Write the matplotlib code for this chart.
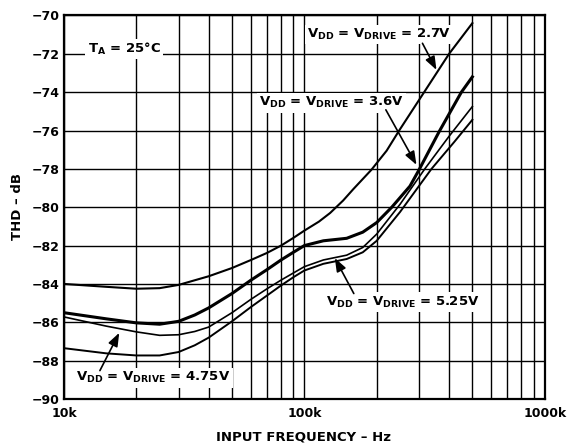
import matplotlib
matplotlib.use('Agg')
import matplotlib.pyplot as plt
from matplotlib.ticker import FixedLocator, FixedFormatter, NullFormatter

plt.rcParams['font.family'] = ['DejaVu Sans']
plt.rcParams['font.weight'] = 'bold'
plt.rcParams['mathtext.fontset'] = 'custom'
plt.rcParams['mathtext.rm'] = 'DejaVu Sans:bold'
plt.rcParams['mathtext.it'] = 'DejaVu Sans:bold'
plt.rcParams['mathtext.bf'] = 'DejaVu Sans:bold'

# THD vs input frequency (kHz)
f_27 = [10, 15, 20, 25, 30, 40, 50, 60, 70, 80, 90, 100, 115, 128, 145, 160, 190, 220,
        248, 315, 400, 500]
thd_27 = [-84.0, -84.15, -84.25, -84.22, -84.05, -83.6, -83.17, -82.75, -82.38, -82.0,
          -81.6, -81.22, -80.75, -80.3, -79.65, -79.05, -78.05, -77.05, -76.0, -74.0,
          -72.0, -70.4]

f_36 = [10, 15, 20, 25, 30, 35, 40, 50, 60, 70, 80, 90, 100, 120, 150, 175, 200, 231,
        275, 300, 364, 450, 500]
thd_36 = [-85.5, -85.82, -86.03, -86.1, -85.95, -85.62, -85.25, -84.5, -83.8, -83.25,
          -82.75, -82.35, -82.0, -81.75, -81.62, -81.3, -80.8, -80.0, -78.9, -78.05,
          -76.05, -74.0, -73.2]

f_475 = [10, 15, 20, 25, 30, 35, 40, 50, 60, 70, 80, 90, 100, 120, 150, 175, 200, 250,
         317, 400, 500]
thd_475 = [-85.72, -86.2, -86.5, -86.68, -86.65, -86.48, -86.25, -85.5, -84.8, -84.25,
           -83.8, -83.43, -83.1, -82.75, -82.5, -82.1, -81.4, -79.85, -78.0, -76.3,
           -74.75]

f_525 = [10, 15, 20, 25, 30, 35, 40, 50, 60, 70, 80, 90, 100, 120, 150, 175, 200, 250,
         338, 420, 500]
thd_525 = [-87.35, -87.62, -87.73, -87.73, -87.55, -87.2, -86.8, -85.95, -85.2, -84.6,
           -84.08, -83.65, -83.3, -82.95, -82.7, -82.35, -81.75, -80.25, -78.0, -76.6,
           -75.44]

x_ticks = [10, 100, 1000]
x_labels = ['10k', '100k', '1000k']
y_ticks = list(range(-90, -69, 2))

fig = plt.figure(figsize=(5.71, 4.45), dpi=100)
ax = fig.add_axes([0.112, 0.1034, 0.842, 0.8618])

ax.plot(f_27, thd_27, color='black', lw=1.5, zorder=4)
ax.plot(f_36, thd_36, color='black', lw=2.2, zorder=4)
ax.plot(f_475, thd_475, color='black', lw=1.2, zorder=4)
ax.plot(f_525, thd_525, color='black', lw=1.4, zorder=4)

ax.set_xscale('log')
ax.set_xlim(10, 1000)
ax.set_ylim(-90, -70)
ax.xaxis.set_major_locator(FixedLocator(x_ticks))
ax.xaxis.set_major_formatter(FixedFormatter(x_labels))
ax.xaxis.set_minor_formatter(NullFormatter())
ax.set_yticks(y_ticks)
ax.set_yticklabels([f'\u2212{abs(v)}' for v in y_ticks])
ax.tick_params(which='both', length=0, labelsize=9)
ax.tick_params(axis='x', pad=6)
ax.tick_params(axis='y', pad=3)
ax.grid(True, which='both', color='black', lw=1.0)
for s in ax.spines.values():
    s.set_linewidth(1.6)

box = dict(facecolor='white', edgecolor='none', pad=1.5)
ax.text(0.125, 0.912, r'$\mathrm{T_A}$ = 25°C', transform=ax.transAxes,
        ha='center', va='center', fontsize=9.5, bbox=box, zorder=3)
ax.text(0.655, 0.951, r'$\mathrm{V_{DD}}$ = $\mathrm{V_{DRIVE}}$ = 2.7V', transform=ax.transAxes,
        ha='center', va='center', fontsize=9.5, bbox=box, zorder=3)
ax.text(0.556, 0.772, r'$\mathrm{V_{DD}}$ = $\mathrm{V_{DRIVE}}$ = 3.6V', transform=ax.transAxes,
        ha='center', va='center', fontsize=9.5, bbox=box, zorder=3)
ax.text(0.186, 0.055, r'$\mathrm{V_{DD}}$ = $\mathrm{V_{DRIVE}}$ = 4.75V', transform=ax.transAxes,
        ha='center', va='center', fontsize=9.5, bbox=box, zorder=3)
ax.text(0.705, 0.253, r'$\mathrm{V_{DD}}$ = $\mathrm{V_{DRIVE}}$ = 5.25V', transform=ax.transAxes,
        ha='center', va='center', fontsize=9.5, bbox=box, zorder=3)

arrow = dict(arrowstyle='-|>,head_length=0.8,head_width=0.3', color='black', lw=1.2,
             shrinkA=0, shrinkB=0)
ax.annotate('', xy=(354.5, -72.84), xytext=(310, -71.45), arrowprops=arrow, zorder=5)
ax.annotate('', xy=(292.7, -77.79), xytext=(218.3, -74.92), arrowprops=arrow, zorder=5)
ax.annotate('', xy=(16.98, -86.55), xytext=(14.11, -88.52), arrowprops=arrow, zorder=5)
ax.annotate('', xy=(133.9, -82.65), xytext=(160.6, -84.5), arrowprops=arrow, zorder=5)

fig.text(0.532, 0.019, 'INPUT FREQUENCY \u2013 Hz', ha='center', va='center', fontsize=9.5)
fig.text(0.030, 0.535, 'THD \u2013 dB', ha='center', va='center', rotation=90, fontsize=9.5)

fig.savefig('out.png', dpi=100)
